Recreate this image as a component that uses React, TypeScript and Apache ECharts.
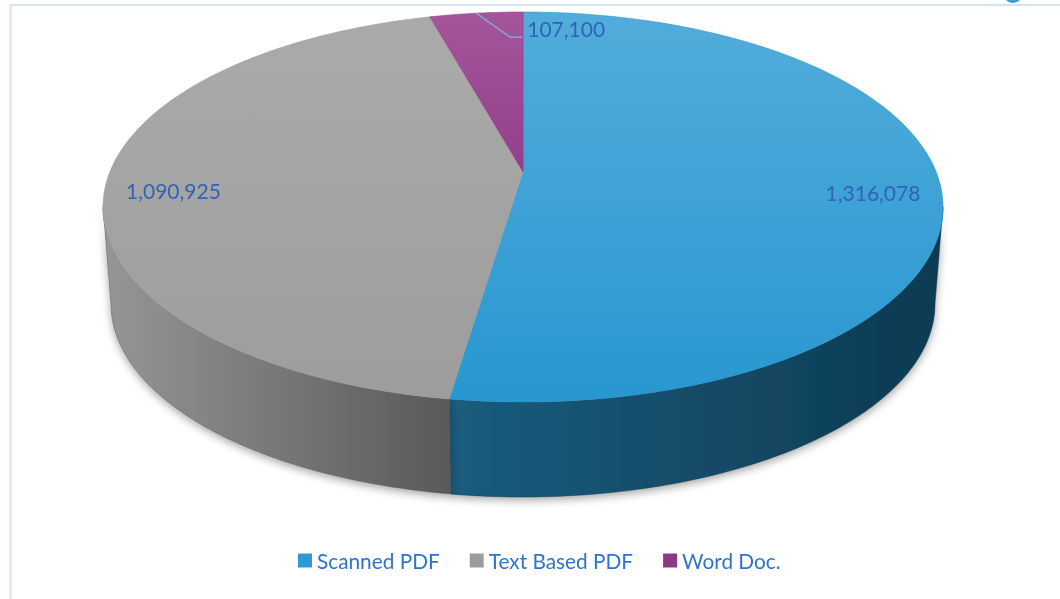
import React, { useEffect, useRef } from 'react';
import * as echarts from 'echarts';

const categories = ['Scanned PDF', 'Text Based PDF', 'Word Doc.'];
const values = [1316078, 1090925, 107100];
const topColors = [['#52acdb', '#2897d0'], ['#aaaaaa', '#9d9d9d'], ['#a4559b', '#92408a']];
const sideColors = [['#1a5c7e', '#0e3a51'], ['#969696', '#595959'], ['#6e2a63', '#5a1f50']];
const legendColors = ['#2e9cd3', '#9c9c9c', '#8e3a82'];

// projected (perspective) pie geometry
const P = 0.18;
const CX = 523;
const TOP = { cy: 207, w: 420, h: 195 };
const BOT = { cy: 304, w: 412, h: 193 };

function proj(el: { cy: number; w: number; h: number }, t: number, r = 1) {
  const A = el.w * Math.sqrt(1 - P * P);
  const B = el.h * (1 - P * P);
  const y0 = el.cy - el.h * P;
  const u = r * Math.sin(t);
  const w = r * Math.cos(t);
  const s = 1 / (1 + P * w);
  return [CX + A * u * s, y0 - B * w * s];
}
const topPt = (t: number) => proj(TOP, t);
const botPt = (t: number) => proj(BOT, t);
function arc(fn: (t: number) => number[], a: number, b: number) {
  const n = Math.max(2, Math.ceil(Math.abs(b - a) / (Math.PI / 180)));
  const pts: number[][] = [];
  for (let i = 0; i <= n; i++) pts.push(fn(a + ((b - a) * i) / n));
  return pts;
}
const fmt = (v: number) => v.toLocaleString('en-US');

export default function App() {
  const ref = useRef<HTMLDivElement>(null);
  useEffect(() => {
    if (!ref.current) return;
    const chart = echarts.init(ref.current, null, { renderer: 'svg' });
    const total = values.reduce((s, v) => s + v, 0);
    const sideFrom = Math.acos(-P);
    const sideTo = Math.PI * 2 - Math.acos(-P);

    const renderItem = (params: any, api: any) => {
      const i = params.seriesIndex;
      const v = api.value(0);
      let before = 0;
      for (let k = 0; k < i; k++) before += values[k];
      const start = (before / total) * Math.PI * 2;
      const end = start + (v / total) * Math.PI * 2;
      const children: any[] = [];
      const s = Math.max(start, sideFrom);
      const e = Math.min(end, sideTo);
      if (e > s) {
        children.push({
          type: 'polygon',
          z2: 1,
          shape: { points: arc(topPt, s, e).concat(arc(botPt, e, s)) },
          style: {
            fill: new echarts.graphic.LinearGradient(0, 0, 1, 0, [
              { offset: 0, color: sideColors[i][0] },
              { offset: 1, color: sideColors[i][1] },
            ]),
            stroke: sideColors[i][1],
            lineWidth: 0.5,
            shadowBlur: 8,
            shadowOffsetY: 3,
            shadowColor: 'rgba(0,0,0,0.35)',
          },
        });
      }
      children.push({
        type: 'polygon',
        z2: 5,
        shape: { points: [proj(TOP, 0, 0)].concat(arc(topPt, start, end)) },
        style: {
          fill: new echarts.graphic.LinearGradient(0, 0, 0, 1, [
            { offset: 0, color: topColors[i][0] },
            { offset: 1, color: topColors[i][1] },
          ]),
          stroke: topColors[i][1],
          lineWidth: 0.6,
        },
      });
      const mid = (start + end) / 2;
      const frac = v / total;
      if (frac > 0.1) {
        const lp = proj(TOP, mid, 0.84);
        children.push({
          type: 'text',
          z2: 10,
          x: lp[0],
          y: lp[1] + 9,
          style: {
            text: fmt(v),
            fill: '#2f64b6',
            fontSize: 21,
            fontFamily: 'Lato',
            align: 'center',
            verticalAlign: 'middle',
          },
        });
      } else {
        const E = topPt(mid);
        const elbow = [E[0] + 34, E[1] + 24];
        const endp = [elbow[0] + 12, elbow[1]];
        children.push({
          type: 'polyline',
          z2: 10,
          shape: { points: [E, elbow, endp] },
          style: { stroke: '#7ea9dd', lineWidth: 1.5, fill: 'none' },
        });
        children.push({
          type: 'text',
          z2: 10,
          x: endp[0] + 5,
          y: endp[1] - 9,
          style: {
            text: fmt(v),
            fill: '#2f64b6',
            fontSize: 21,
            fontFamily: 'Lato',
            align: 'left',
            verticalAlign: 'middle',
          },
        });
      }
      return { type: 'group', children };
    };

    chart.setOption({
      animation: false,
      legend: {
        data: categories,
        left: 293,
        top: 545,
        icon: 'rect',
        itemWidth: 14,
        itemHeight: 14,
        itemGap: 30,
        textStyle: { color: '#2f74c8', fontSize: 20.8, fontFamily: 'Lato' },
      },
      graphic: [
        {
          type: 'rect',
          shape: { x: 10.5, y: 5, width: 1100, height: 700 },
          style: { fill: 'none', stroke: '#d5e3f6', lineWidth: 2 },
          silent: true,
        },
        {
          type: 'ellipse',
          shape: { cx: 1013, cy: -8, rx: 10, ry: 11 },
          style: { fill: '#3a9fd8' },
          silent: true,
        },
      ],
      series: categories.map((name, i) => ({
        type: 'custom',
        name,
        coordinateSystem: 'none',
        itemStyle: { color: legendColors[i] },
        renderItem,
        data: [[values[i]]],
      })),
    });
    return () => chart.dispose();
  }, []);
  return <div ref={ref} style={{ position: 'fixed', left: 0, top: 0, width: 1060, height: 599 }} />;
}
